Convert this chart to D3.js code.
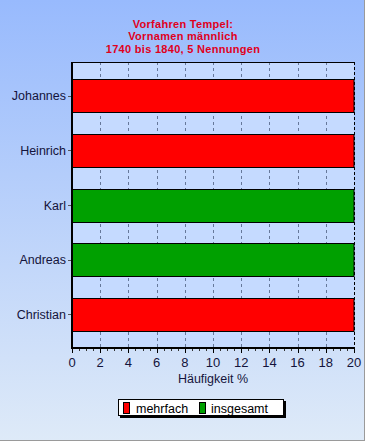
<!DOCTYPE html>
<html><head><meta charset="utf-8">
<script src="https://cdn.jsdelivr.net/npm/d3@7"></script>
<style>html,body{margin:0;padding:0;background:#fff}svg{display:block}</style>
</head><body>
<script>
const categories = ["Johannes","Heinrich","Karl","Andreas","Christian"];
const values = [20,20,20,20,20];
const seriesOf = ["mehrfach","mehrfach","insgesamt","insgesamt","mehrfach"];
const seriesNames = ["mehrfach","insgesamt"];
const seriesColors = ["#ff0000","#00a000"];
const xTicks = [0,2,4,6,8,10,12,14,16,18,20];
const titleLines = ["Vorfahren Tempel:","Vornamen männlich","1740 bis 1840, 5 Nennungen"];
const xTitle = "Häufigkeit %";

const W=365,H=441;
const svg=d3.select("body").append("svg").attr("width",W).attr("height",H);
const defs=svg.append("defs");
const g=defs.append("linearGradient").attr("id","bg").attr("x1",0).attr("y1",0).attr("x2",0).attr("y2",1);
g.append("stop").attr("offset","0%").attr("stop-color","#98bafd");
g.append("stop").attr("offset","100%").attr("stop-color","#deeaf8");
svg.append("rect").attr("width",W).attr("height",H).attr("fill","url(#bg)");
svg.append("line").attr("x1",W-0.5).attr("x2",W-0.5).attr("y1",0).attr("y2",H).attr("stroke","#9a9a9a");
svg.append("line").attr("x1",0).attr("x2",W).attr("y1",H-0.5).attr("y2",H-0.5).attr("stroke","#9a9a9a");

const L=72,R=354,T=62,B=348;
const x=d3.scaleLinear().domain([0,20]).range([L,R]);
const y=d3.scaleBand().domain(categories).range([T,B]).paddingInner(0.4).paddingOuter(0.315);
const color=d3.scaleOrdinal().domain(seriesNames).range(seriesColors);

svg.append("rect").attr("x",L).attr("y",T).attr("width",R-L).attr("height",B-T).attr("fill","#c5daff");

// gridlines
svg.append("g").selectAll("line").data(xTicks.filter(d=>d>0&&d<20)).join("line")
  .attr("x1",d=>Math.round(x(d))+0.5).attr("x2",d=>Math.round(x(d))+0.5).attr("y1",T).attr("y2",B)
  .attr("stroke","#66789a").attr("stroke-dasharray","3,3");
// right dashed border
svg.append("line").attr("x1",R+0.5).attr("x2",R+0.5).attr("y1",T).attr("y2",B).attr("stroke","#000").attr("stroke-dasharray","3,2");
// top border
svg.append("line").attr("x1",L).attr("x2",R+1).attr("y1",T+0.5).attr("y2",T+0.5).attr("stroke","#000");

// bars
svg.append("g").selectAll("rect").data(categories).join("rect")
  .attr("x",x(0)).attr("y",(d)=>Math.round(y(d))+0.5)
  .attr("width",(d,i)=>x(values[i])-x(0)).attr("height",Math.round(y.bandwidth()))
  .attr("fill",(d,i)=>color(seriesOf[i])).attr("stroke","#000").attr("stroke-width",1);

// x axis
const xa=svg.append("g").attr("transform",`translate(0,${B})`);
const minor=d3.range(0,20.01,0.5);
xa.selectAll("line.minor").data(minor).join("line").attr("class","minor")
  .attr("x1",d=>Math.round(x(d))+0.5).attr("x2",d=>Math.round(x(d))+0.5).attr("y1",0).attr("y2",3).attr("stroke","#333");
xa.selectAll("line.major").data(xTicks).join("line").attr("class","major")
  .attr("x1",d=>Math.round(x(d))+0.5).attr("x2",d=>Math.round(x(d))+0.5).attr("y1",0).attr("y2",5).attr("stroke","#000");
xa.selectAll("text").data(xTicks).join("text")
  .attr("x",d=>x(d)).attr("y",19).attr("text-anchor","middle")
  .attr("font-family","Liberation Sans, Arial, sans-serif").attr("font-size",13).attr("fill","#14143c").text(d=>d);
svg.append("text").attr("x",(L+R)/2).attr("y",383).attr("text-anchor","middle")
  .attr("font-family","Liberation Sans, Arial, sans-serif").attr("font-size",12.5).attr("fill","#14143c").text(xTitle);

// y axis
svg.append("g").selectAll("line").data(categories).join("line")
  .attr("x1",L-4).attr("x2",L).attr("y1",d=>Math.round(y(d)+y.bandwidth()/2)+0.5).attr("y2",d=>Math.round(y(d)+y.bandwidth()/2)+0.5).attr("stroke","#555");
svg.append("g").selectAll("text").data(categories).join("text")
  .attr("x",L-6).attr("y",d=>y(d)+y.bandwidth()/2+4.5).attr("text-anchor","end")
  .attr("font-family","Liberation Sans, Arial, sans-serif").attr("font-size",12.5).attr("fill","#14143c").text(d=>d);

// axis lines
svg.append("line").attr("x1",L).attr("x2",L).attr("y1",T).attr("y2",B+1).attr("stroke","#000").attr("stroke-width",2);
svg.append("line").attr("x1",L-1).attr("x2",R+1).attr("y1",B).attr("y2",B).attr("stroke","#000").attr("stroke-width",2);

// title
svg.append("g").selectAll("text").data(titleLines).join("text")
  .attr("x",183).attr("y",(d,i)=>27.5+i*12.5).attr("text-anchor","middle")
  .attr("font-family","Liberation Sans, Arial, sans-serif").attr("font-weight","bold").attr("font-size",11)
  .attr("letter-spacing",0.3).attr("fill","#e0001c").text(d=>d);

// legend
const lg=svg.append("g");
lg.append("rect").attr("x",120).attr("y",401).attr("width",166).attr("height",17).attr("fill","#000");
lg.append("rect").attr("x",118.5).attr("y",399.5).attr("width",165).attr("height",16).attr("fill","#fff").attr("stroke","#000");
const items=[{n:seriesNames[0],sx:123,tx:136},{n:seriesNames[1],sx:199,tx:211}];
lg.selectAll("rect.sw").data(items).join("rect").attr("class","sw")
  .attr("x",d=>d.sx+0.5).attr("y",402.5).attr("width",6).attr("height",11).attr("fill",d=>color(d.n)).attr("stroke","#000");
lg.selectAll("text").data(items).join("text").attr("x",d=>d.tx).attr("y",412.5)
  .attr("font-family","Liberation Sans, Arial, sans-serif").attr("font-size",12.5).attr("fill","#000").text(d=>d.n);
</script>
</body></html>
